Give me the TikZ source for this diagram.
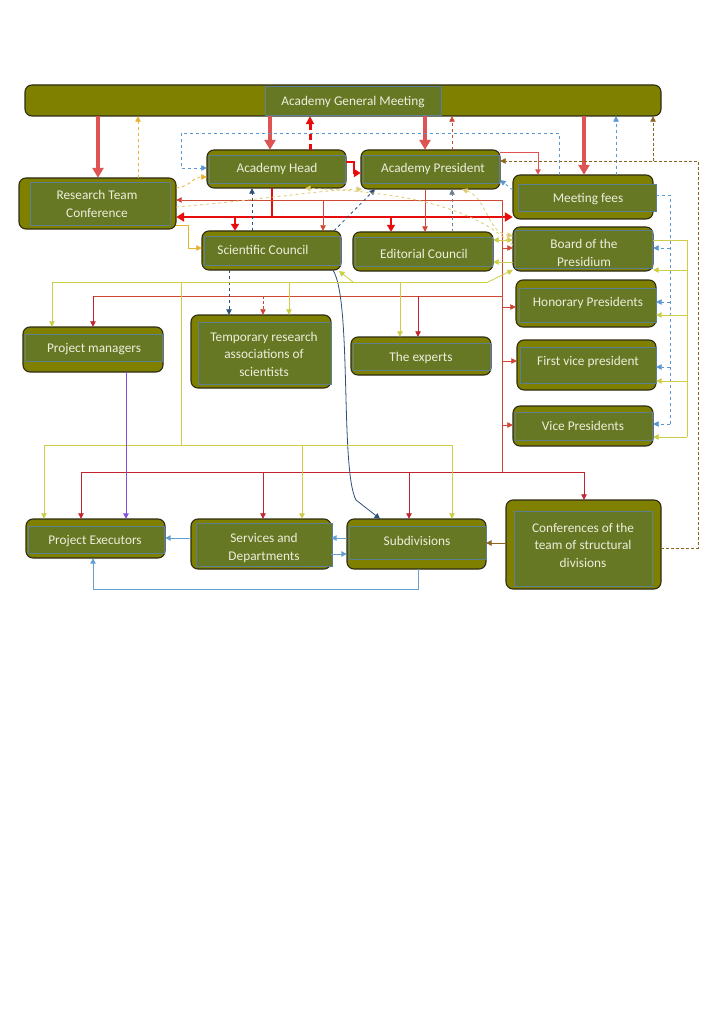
\documentclass[tikz,border=0pt]{standalone}
\usepackage{fontspec}
\setmainfont{Carlito}
\usetikzlibrary{arrows.meta,fit}
\definecolor{oliveout}{RGB}{128,128,0}
\definecolor{olivein}{RGB}{102,120,36}
\definecolor{innedge}{RGB}{92,128,145}
\definecolor{boxedge}{RGB}{45,45,20}
\definecolor{txtcol}{RGB}{238,238,220}
\definecolor{pinkred}{RGB}{222,84,84}
\definecolor{brightred}{RGB}{232,12,12}
\definecolor{redthin}{RGB}{208,70,52}
\definecolor{crimson}{RGB}{195,35,45}
\definecolor{ygreen}{RGB}{205,205,70}
\definecolor{oryellow}{RGB}{230,180,50}
\definecolor{ltyellow}{RGB}{222,205,120}
\definecolor{dblue}{RGB}{90,150,210}
\definecolor{sblue}{RGB}{100,160,210}
\definecolor{navy}{RGB}{45,80,120}
\definecolor{grayblue}{RGB}{110,125,150}
\definecolor{brownc}{RGB}{140,100,30}
\definecolor{purplec}{RGB}{130,80,220}
\tikzset{
  outerbox/.style={fill=oliveout, draw=boxedge, line width=1.1pt, rounded corners=7pt},
  innerbox/.style={fill=olivein, draw=innedge, line width=0.8pt},
  lbl/.style={text=txtcol, font=\fontsize{13.3}{17.5}\selectfont, align=center, inner sep=0pt},
  arr/.style={-{Triangle[length=5.5pt,width=5.5pt]}, line width=0.8pt},
  darr/.style={{Triangle[length=5.5pt,width=5.5pt]}-{Triangle[length=5.5pt,width=5.5pt]}, line width=0.8pt},
  bigarr/.style={-{Triangle[length=10pt,width=11pt]}, line width=4.5pt, draw=pinkred},
  redbar/.style={brightred, line width=2.6pt},
  redbararr/.style={-{Triangle[length=7pt,width=8pt]}, brightred, line width=2.6pt},
}
\newcommand{\ubox}[9]{%
  \draw[outerbox] (#2,#3) rectangle (#4,#5);
  \draw[innerbox] (#6,#7) rectangle (#8,#9);
  \node[inner sep=0pt, fit={(#2,#3)(#4,#5)}] (#1) {};
}
\begin{document}
\begin{tikzpicture}[x=1pt,y=-1pt]
\useasboundingbox (0,0) rectangle (724,1024);
\fill[white] (0,0) rectangle (724,1024);

% boxes
\ubox{gm}{25}{85}{661}{116}{265}{86}{441}{115}
\ubox{head}{207}{150}{346}{188}{209}{155}{345}{183}
\ubox{pres}{361}{150}{500}{189}{363}{155}{499}{183}
\ubox{rtc}{19}{178}{176}{229}{30}{182}{170}{225}
\ubox{fees}{513}{175}{653}{219}{518}{184}{656}{211}
\ubox{sc}{202}{231}{341}{270}{204}{236}{340}{265}
\ubox{ec}{353}{232}{493}{271}{355}{237}{492}{266}
\ubox{board}{513}{227}{653}{271}{515}{230}{652}{268}
\ubox{hon}{516}{280}{656}{327}{519}{288}{656}{322}
\ubox{fvp}{517}{340}{656}{390}{520}{347}{656}{383}
\ubox{vp}{513}{406}{653}{446}{515}{412}{652}{440}
\ubox{pm}{23}{327}{163}{372}{25}{334}{162}{361}
\ubox{temp}{191}{315}{331}{388}{198}{322}{331}{384}
\ubox{exp}{351}{337}{491}{375}{353}{343}{490}{370}
\ubox{pe}{26}{519}{165}{558}{28}{526}{164}{553}
\ubox{sd}{191}{519}{331}{569}{196}{523}{332}{566}
\ubox{sub}{347}{519}{486}{569}{349}{526}{486}{559}
\ubox{conf}{506}{500}{661}{589}{514}{511}{652}{586}

% labels
\node[lbl] (t-gm) at (353,102) {Academy General Meeting};
\node[lbl] (t-head) at (277,169) {Academy Head};
\node[lbl] (t-pres) at (433,169) {Academy President};
\node[lbl] (t-rtc) at (97,204) {Research Team\\Conference};
\node[lbl] (t-fees) at (588,199) {Meeting fees};
\node[lbl] (t-sc) at (263,250) {Scientific Council};
\node[lbl] (t-ec) at (424,254) {Editorial Council};
\node[lbl] (t-board) at (584,253) {Board of the\\Presidium};
\node[lbl] (t-hon) at (588,303) {Honorary Presidents};
\node[lbl] (t-fvp) at (588,362) {First vice president};
\node[lbl] (t-vp) at (583,426) {Vice Presidents};
\node[lbl] (t-pm) at (94,349) {Project managers};
\node[lbl] (t-temp) at (264,354) {Temporary research\\associations of\\scientists};
\node[lbl] (t-exp) at (421,358) {The experts};
\node[lbl] (t-pe) at (95,541) {Project Executors};
\node[lbl] (t-sd) at (264,548) {Services and\\Departments};
\node[lbl] (t-sub) at (417,541) {Subdivisions};
\node[lbl] (t-conf) at (583,545) {Conferences of the\\team of structural\\divisions};

% thick arrows from the general meeting
\draw[bigarr] (gm.south -| 98,0) -- (rtc.north -| 98,0);
\draw[bigarr] (gm.south -| 270,0) -- (head.north -| 270,0);
\draw[bigarr] (gm.south -| 425,0) -- (pres.north -| 425,0);
\draw[bigarr] (gm.south -| 584,0) -- (fees.north -| 584,0);

% dashed arrows up to the general meeting
\draw[arr, oryellow, dashed] (rtc.north -| 138,0) -- (gm.south -| 138,0);
\draw[-{Triangle[length=8pt,width=8pt]}, brightred, line width=3pt, dash pattern=on 6pt off 4pt] (head.north -| 310,0) -- (gm.south -| 310,0);
\draw[arr, redthin, dashed] (pres.north -| 452,0) -- (gm.south -| 452,0);
\draw[arr, dblue, dashed] (fees.north -| 616,0) -- (gm.south -| 616,0);

% brown dotted from the conferences
\coordinate (br1) at (698,548);
\coordinate (br2) at (698,161);
\coordinate (br3) at (653,161);
\draw[arr, brownc, densely dashed] (conf.east |- br1) -- (br1) -- (br2) -- (pres.east |- br2);
\draw[arr, brownc, densely dashed] (br3) -- (gm.south -| br3);

% blue dashed loop to the head
\draw[arr, dblue, dashed] (fees.north -| 559,0) -- (559,133) -- (181,133) -- (181,168) -- (head.west |- 0,168);

% president to meeting fees
\draw[arr, pinkred, line width=1pt] (pres.east |- 0,153) -- (538,153) -- (fees.north -| 538,0);

% head to president
\draw[redbararr] (head.east |- 0,162) -- (354,162) -- (354,173) -- (pres.west |- 0,173);

% thick red bar from the head
\draw[{Triangle[length=8pt,width=9pt]}-{Triangle[length=8pt,width=9pt]}, brightred, line width=2.6pt] (rtc.east |- 0,217) -- (fees.west |- 0,217);
\draw[redbar] (head.south -| 272,0) -- (272,217);
\draw[redbararr] (235,217) -- (sc.north -| 235,0);
\draw[redbararr] (391,217) -- (ec.north -| 391,0);

% thin red network
\draw[arr, redthin] (502,200) -- (rtc.east |- 0,200);
\draw[arr, redthin] (323,200) -- (sc.north -| 323,0);
\draw[redthin, line width=0.9pt] (502,200) -- (502,472);
\draw[arr, redthin] (502,248) -- (board.west |- 0,248);
\draw[arr, redthin] (502,307) -- (hon.west |- 0,307);
\draw[arr, redthin] (502,361) -- (fvp.west |- 0,361);
\draw[arr, redthin] (502,425) -- (vp.west |- 0,425);
\draw[redthin, line width=0.8pt] (502,296) -- (93,296);
\draw[arr, crimson] (93,296) -- (pm.north -| 93,0);
\draw[arr, redthin, densely dashed] (263,296) -- (temp.north -| 263,0);
\draw[arr, crimson] (418,296) -- (exp.north -| 418,0);
\draw[crimson, line width=0.9pt] (81,472) -- (584,472);
\draw[arr, crimson] (81,472) -- (pe.north -| 81,0);
\draw[arr, crimson] (263,472) -- (sd.north -| 263,0);
\draw[arr, crimson] (409,472) -- (sub.north -| 409,0);
\draw[arr, crimson] (584,472) -- (conf.north -| 584,0);
\draw[arr, redthin] (pres.south -| 425,0) -- (ec.north -| 425,0);

% blue links of the scientific council
\draw[arr, navy, dashed] (sc.north -| 252,0) -- (head.south -| 252,0);
\draw[arr, navy, dashed] (sc.south -| 229,0) -- (temp.north -| 229,0);
\draw[arr, navy, dashed] (sc.north -| 334,0) -- (pres.south -| 375,0);
\draw[arr, grayblue, dashed] (ec.north -| 452,0) -- (pres.south -| 452,0);
\draw[arr, navy] (sc.south -| 333,0) .. controls (352,300) and (340,470) .. (356,500) -- (sub.north -| 380,0);
\draw[arr, dblue, dashed] (fees.west |- 0,190) -- (pres.east |- 0,180);

% blue dashed right network
\draw[dblue, dashed, line width=0.8pt] (656,195) -- (670,195) -- (670,424);
\draw[arr, dblue, dashed] (670,248) -- (board.east |- 0,248);
\draw[arr, dblue, dashed] (670,302) -- (hon.east |- 0,302);
\draw[arr, dblue, dashed] (670,367) -- (fvp.east |- 0,367);
\draw[arr, dblue, dashed] (670,424) -- (vp.east |- 0,424);

% yellow-green right network
\draw[ygreen, line width=0.9pt] (board.east |- 0,240) -- (687,240) -- (687,437);
\draw[arr, ygreen] (687,270) -- (board.east |- 0,270);
\draw[arr, ygreen] (687,315) -- (hon.east |- 0,315);
\draw[arr, ygreen] (687,381) -- (fvp.east |- 0,381);
\draw[arr, ygreen] (687,437) -- (vp.east |- 0,437);

% yellow-green middle network
\draw[ygreen, line width=0.9pt] (52,282) -- (488,282);
\draw[arr, ygreen] (488,282) -- (board.west |- 0,270);
\draw[arr, ygreen] (353,282) -- (339,271);
\draw[arr, ygreen] (52,282) -- (pm.north -| 52,0);
\draw[arr, ygreen] (289,282) -- (temp.north -| 289,0);
\draw[arr, ygreen] (400,282) -- (exp.north -| 400,0);
\draw[ygreen, line width=0.9pt] (181,282) -- (181,445);
\draw[ygreen, line width=0.9pt] (44,445) -- (452,445);
\draw[arr, ygreen] (44,445) -- (pe.north -| 44,0);
\draw[arr, ygreen] (302,445) -- (sd.north -| 302,0);
\draw[arr, ygreen] (452,445) -- (sub.north -| 452,0);
\draw[darr, ygreen] (ec.east |- 0,240) -- (board.west |- 0,240);
\draw[arr, ygreen] (board.west |- 0,262) -- (ec.east |- 0,262);

% orange links of the research team conference
\draw[arr, oryellow] (rtc.east |- 0,225) -- (188,225) -- (188,248) -- (sc.west |- 0,248);
\draw[arr, oryellow, dashed] (rtc.east |- 0,188) .. controls (192,186) and (192,177) .. (head.west |- 0,177);

% light yellow dashed curves
\draw[arr, ltyellow, dashed] (rtc.east |- 0,207) .. controls (260,200) and (320,190) .. (pres.south -| 362,0);
\draw[arr, ltyellow, dashed] (board.west |- 0,245) .. controls (470,205) and (400,192) .. (head.south -| 305,0);
\draw[darr, ltyellow, dashed] (pres.south -| 462,0) .. controls (487,198) and (487,232) .. (board.west |- 0,236);

% bottom row
\draw[arr, brownc, line width=1pt] (conf.west |- 0,543) -- (sub.east |- 0,543);
\draw[arr, sblue, line width=1pt] (sd.west |- 0,538) -- (pe.east |- 0,538);
\draw[arr, sblue, line width=1pt] (sub.west |- 0,538) -- (sd.east |- 0,538);
\draw[arr, sblue, line width=1pt] (sd.east |- 0,554) -- (sub.west |- 0,554);
\draw[arr, sblue, line width=1pt] (sub.south -| 418,0) -- (418,589) -- (93,589) -- (pe.south -| 93,0);
\draw[arr, purplec, line width=1pt] (pm.south -| 126,0) -- (pe.north -| 126,0);
\end{tikzpicture}
\end{document}
